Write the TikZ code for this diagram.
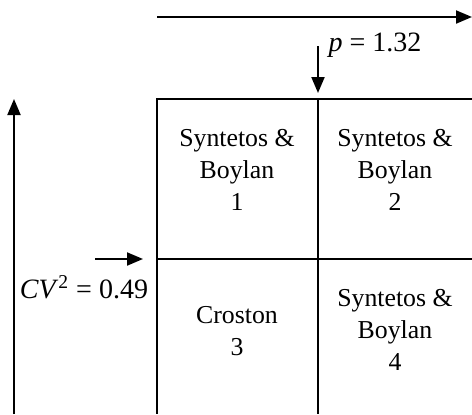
\documentclass[tikz,border=0pt]{standalone}
\usepackage{fontspec}
\setmainfont{Liberation Serif}
\usetikzlibrary{arrows.meta}
\begin{document}
\begin{tikzpicture}[x=0.5pt, y=-0.5pt,
  font=\fontsize{12.9}{16}\selectfont,
  grid/.style={line width=1pt},
  axis/.style={line width=1pt, -{Triangle[length=8pt, width=6.5pt]}},
  cell/.style={align=center, inner sep=0pt},
  cutoff/.style={font=\fontsize{14}{16}\selectfont}
]
  \useasboundingbox (0,0) rectangle (472,414);
  % quadrant grid (clipped at the right and bottom)
  \coordinate (nw) at (157,99);
  \coordinate (n)  at (318,99);
  \coordinate (ne) at (472,99);
  \coordinate (w)  at (157,259);
  \coordinate (e)  at (472,259);
  \coordinate (sw) at (157,414);
  \coordinate (s)  at (318,414);
  \draw[grid] (ne) -- (nw) -- (sw);
  \draw[grid] (n) -- (s);
  \draw[grid] (w) -- (e);
  \node[cell] (q1) at (237,170) {Syntetos \&\\Boylan\\1};
  \node[cell] (q2) at (395,170) {Syntetos \&\\Boylan\\2};
  \node[cell] (q3) at (237,331) {Croston\\3};
  \node[cell] (q4) at (395,330) {Syntetos \&\\Boylan\\4};
  % axes
  \coordinate (xs) at (157,17);
  \coordinate (xe) at (472,17);
  \coordinate (ys) at (14,414);
  \coordinate (ye) at (14,99);
  \draw[axis] (xs) -- (xe);
  \draw[axis] (ys) -- (ye);
  % cut-off values
  \coordinate (ps) at (318,46);
  \coordinate (pe) at (318,93);
  \coordinate (cs) at (95,259);
  \coordinate (ce) at (143,259);
  \draw[axis] (ps) -- (pe);
  \draw[axis] (cs) -- (ce);
  \node[cutoff] (pval) at (375,45) {\textit{p} = 1.32};
  \node[cutoff] (cvval) at (84,287) {\textit{CV}\textsuperscript{2} = 0.49};
\end{tikzpicture}
\end{document}
